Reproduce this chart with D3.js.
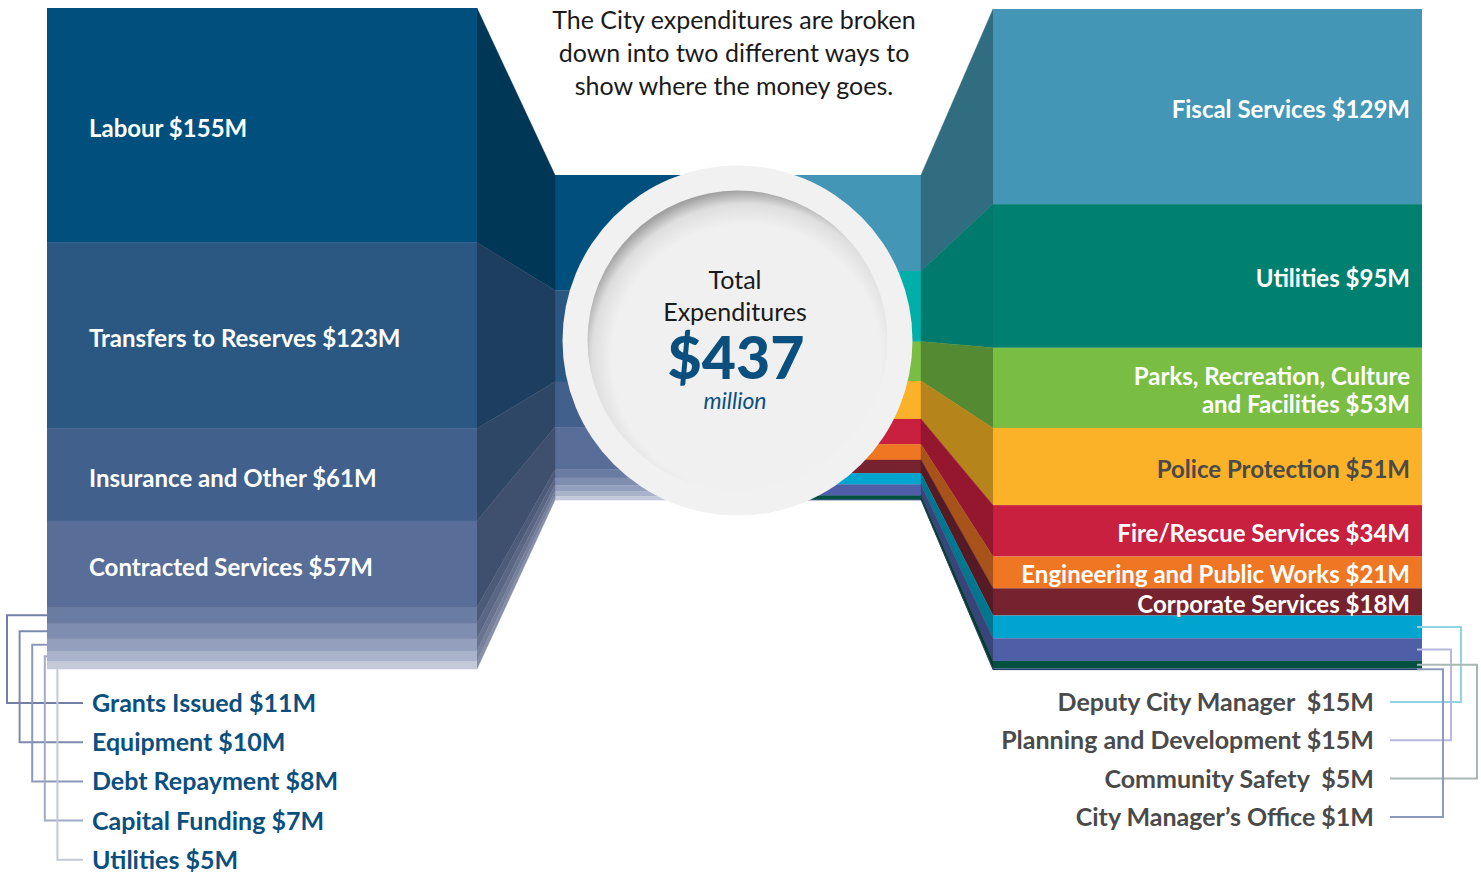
<!DOCTYPE html>
<html>
<head>
<meta charset="utf-8">
<script src="https://cdn.jsdelivr.net/npm/d3@7"></script>
<style>
  body { margin: 0; background: #fff; }
  text { font-family: Lato, "Open Sans", sans-serif; white-space: pre; }
</style>
</head>
<body>
<svg id="chart" width="1481" height="874"></svg>
<script>
// expenditures by type (left)
var typeNames = ["Labour", "Transfers to Reserves", "Insurance and Other", "Contracted Services",
  "Grants Issued", "Equipment", "Debt Repayment", "Capital Funding", "Utilities"];
var typeValues = [155, 123, 61, 57, 11, 10, 8, 7, 5];
var typeFront = ["#004f7c", "#2a5882", "#41618c", "#586e98", "#6b7ca2", "#7f8db0", "#939fbd", "#a9b2cb", "#c3c9d9"];
var typeSide = ["#003656", "#1e3e60", "#2f4766", "#3f4f6e", "#4d5a78", "#5a6684", "#687390", "#76809b", "#858ea7"];
var typeLeader = ["#7380a6", "#7d8aad", "#8d98b8", "#a2abc6", "#c3c9d9"];

// expenditures by department (right)
var deptNames = ["Fiscal Services", "Utilities", "Parks, Recreation, Culture\nand Facilities", "Police Protection",
  "Fire/Rescue Services", "Engineering and Public Works", "Corporate Services", "Deputy City Manager ",
  "Planning and Development", "Community Safety ", "City Manager\u2019s Office"];
var deptValues = [129, 95, 53, 51, 34, 21, 18, 15, 15, 5, 1];
var deptFront = ["#4396b6", "#00806f", "#7abd43", "#fbb228", "#c8203e", "#ef7622", "#76232f", "#00a5cf", "#4e5fa8", "#00513f", "#1d3f6f"];
var deptMid = ["#4396b6", "#00afa9", "#7abd43", "#fbb228", "#c8203e", "#ef7622", "#76232f", "#00a5cf", "#4e5fa8", "#00513f", "#1d3f6f"];
var deptSide = ["#306d80", "#007a6d", "#548a32", "#b5841a", "#94172f", "#a8531a", "#561a24", "#00778f", "#38457a", "#003d30", "#1d2f55"];
var deptText = ["#fff", "#fff", "#fff", "#4a4a4a", "#fff", "#fff", "#fff"];
var deptLeader = ["#8fd4e3", "#b8b8e0", "#a9b8b5", "#8c9bbc"];

var introLines = ["The City expenditures are broken", "down into two different ways to", "show where the money goes."];
var total = d3.sum(typeValues);

var svg = d3.select("#chart");

// layout
var leftX0 = 47, leftX1 = 477, midX0 = 555, midX1 = 921, rightX0 = 993, rightX1 = 1422;
var midSplit = 738;

function stack(values) {
  var acc = 0;
  return values.map(function (v, i) { var s = { i: i, v: v, y0: acc, y1: acc + v }; acc += v; return s; });
}
var typeStack = stack(typeValues);
var deptStack = stack(deptValues);

var yLeft = d3.scaleLinear().domain([0, total]).range([8, 669]);
var yRight = d3.scaleLinear().domain([0, total]).range([9, 670]);
var yMid = d3.scaleLinear().domain([0, total]).range([175, 500]);

// middle stacks
svg.append("g").selectAll("rect").data(typeStack).join("rect")
  .attr("x", midX0).attr("width", midSplit - midX0)
  .attr("y", function (d) { return yMid(d.y0); })
  .attr("height", function (d) { return yMid(d.y1) - yMid(d.y0) + 0.3; })
  .attr("fill", function (d) { return typeFront[d.i]; });
svg.append("g").selectAll("rect").data(deptStack).join("rect")
  .attr("x", midSplit).attr("width", midX1 - midSplit)
  .attr("y", function (d) { return yMid(d.y0); })
  .attr("height", function (d) { return yMid(d.y1) - yMid(d.y0) + 0.3; })
  .attr("fill", function (d) { return deptMid[d.i]; });

// side faces
svg.append("g").selectAll("path").data(typeStack).join("path")
  .attr("d", function (d) {
    return d3.line()([[leftX1, yLeft(d.y0)], [midX0, yMid(d.y0)], [midX0, yMid(d.y1)], [leftX1, yLeft(d.y1)]]) + "Z";
  })
  .attr("fill", function (d) { return typeSide[d.i]; })
  .attr("stroke", function (d) { return typeSide[d.i]; }).attr("stroke-width", 0.4);
svg.append("g").selectAll("path").data(deptStack).join("path")
  .attr("d", function (d) {
    return d3.line()([[midX1, yMid(d.y0)], [rightX0, yRight(d.y0)], [rightX0, yRight(d.y1)], [midX1, yMid(d.y1)]]) + "Z";
  })
  .attr("fill", function (d) { return deptSide[d.i]; })
  .attr("stroke", function (d) { return deptSide[d.i]; }).attr("stroke-width", 0.4);

// front stacks
svg.append("g").selectAll("rect").data(typeStack).join("rect")
  .attr("x", leftX0).attr("width", leftX1 - leftX0)
  .attr("y", function (d) { return yLeft(d.y0); })
  .attr("height", function (d) { return yLeft(d.y1) - yLeft(d.y0) + 0.3; })
  .attr("fill", function (d) { return typeFront[d.i]; });
svg.append("g").selectAll("rect").data(deptStack).join("rect")
  .attr("x", rightX0).attr("width", rightX1 - rightX0)
  .attr("y", function (d) { return yRight(d.y0); })
  .attr("height", function (d) { return Math.max(yRight(d.y1) - yRight(d.y0), 1.6); })
  .attr("fill", function (d) { return deptFront[d.i]; });

// labels inside stacks
var nInLeft = 4, nInRight = 7;
svg.append("g").selectAll("text").data(typeStack.slice(0, nInLeft)).join("text")
  .attr("x", 89)
  .attr("y", function (d) { return (yLeft(d.y0) + yLeft(d.y1)) / 2 + 12; })
  .attr("fill", "#fff").attr("font-size", 24).attr("font-weight", 700)
  .text(function (d) { return typeNames[d.i] + " $" + d.v + "M"; });

svg.append("g").selectAll("text").data(deptStack.slice(0, nInRight)).join("text")
  .attr("text-anchor", "end")
  .attr("fill", function (d) { return deptText[d.i]; }).attr("font-size", 24).attr("font-weight", 700)
  .each(function (d) {
    var lines = (deptNames[d.i] + " $" + d.v + "M").split("\n");
    var cy = (yRight(d.y0) + yRight(d.y1)) / 2;
    var t = d3.select(this);
    lines.forEach(function (l, k) {
      t.append("tspan").attr("x", 1410)
        .attr("y", cy + 11 + (k - (lines.length - 1) / 2) * 28)
        .text(l);
    });
  });

// outside labels + leader lines, left
var leftOut = typeStack.slice(nInLeft);
var leftLabelY = function (k) { return 712 + k * 39.2; };
var leftVx = function (k) { return 7 + k * 12.6; };
svg.append("g").selectAll("path").data(leftOut).join("path")
  .attr("fill", "none").attr("stroke-width", 2)
  .attr("stroke", function (d, k) { return typeLeader[k]; })
  .attr("d", function (d, k) {
    var vx = leftVx(k), ly = leftLabelY(k) - 9;
    var yc = (yLeft(d.y0) + yLeft(d.y1)) / 2;
    var pts = vx < leftX0 ? [[leftX0, yc], [vx, yc], [vx, ly], [83, ly]] : [[vx, yLeft(d.y1)], [vx, ly], [83, ly]];
    return d3.line()(pts);
  });
svg.append("g").selectAll("text").data(leftOut).join("text")
  .attr("x", 92).attr("y", function (d, k) { return leftLabelY(k); })
  .attr("fill", "#0b4f7f").attr("font-size", 25).attr("font-weight", 700)
  .text(function (d) { return typeNames[d.i] + " $" + d.v + "M"; });

// outside labels + leader lines, right
var rightOut = deptStack.slice(nInRight);
var rightLabelY = function (k) { return 711 + k * 38.3; };
var rightVx = [1461, 1451, 1477, 1443];
svg.append("g").selectAll("path").data(rightOut).join("path")
  .attr("fill", "none").attr("stroke-width", 2)
  .attr("stroke", function (d, k) { return deptLeader[k]; })
  .attr("d", function (d, k) {
    var yc = (yRight(d.y0) + yRight(d.y1)) / 2;
    var ly = rightLabelY(k) - 9;
    return d3.line()([[1417, yc], [rightVx[k], yc], [rightVx[k], ly], [1390, ly]]);
  });
svg.append("g").selectAll("text").data(rightOut).join("text")
  .attr("x", 1374).attr("y", function (d, k) { return rightLabelY(k); })
  .attr("text-anchor", "end")
  .attr("fill", "#4a4a4a").attr("font-size", 25).attr("font-weight", 700)
  .text(function (d) { return deptNames[d.i] + " $" + d.v + "M"; });

// centre circle
var defs = svg.append("defs");
var grad = defs.append("radialGradient").attr("id", "inset")
  .attr("cx", 0.53).attr("cy", 0.56).attr("r", 0.56);
grad.append("stop").attr("offset", 0).attr("stop-color", "#f0f0f0");
grad.append("stop").attr("offset", 0.8).attr("stop-color", "#f0f0f0");
grad.append("stop").attr("offset", 0.92).attr("stop-color", "#dedede");
grad.append("stop").attr("offset", 1).attr("stop-color", "#a2a2a2");

var cx = 737.5, cy = 340.5;
svg.append("circle").attr("cx", cx).attr("cy", cy).attr("r", 175).attr("fill", "#f1f1f1");
svg.append("circle").attr("cx", cx).attr("cy", cy).attr("r", 150).attr("fill", "url(#inset)");

svg.append("text").attr("x", 735).attr("y", 289).attr("text-anchor", "middle")
  .attr("fill", "#1a1a1a").attr("font-size", 25).text("Total");
svg.append("text").attr("x", 735).attr("y", 321).attr("text-anchor", "middle")
  .attr("fill", "#1a1a1a").attr("font-size", 25).text("Expenditures");
svg.append("text").attr("x", 736).attr("y", 379).attr("text-anchor", "middle")
  .attr("fill", "#0b4f7f").attr("font-size", 59).attr("font-weight", 900).text("$" + total);
svg.append("text").attr("x", 735).attr("y", 409).attr("text-anchor", "middle")
  .attr("fill", "#0b4f7f").attr("font-size", 23).attr("font-style", "italic").text("million");

// intro text
svg.append("g").selectAll("text").data(introLines).join("text")
  .attr("x", 734).attr("y", function (d, i) { return 29 + i * 33; })
  .attr("text-anchor", "middle").attr("fill", "#1a1a1a").attr("font-size", 25)
  .text(function (d) { return d; });
</script>
</body>
</html>
